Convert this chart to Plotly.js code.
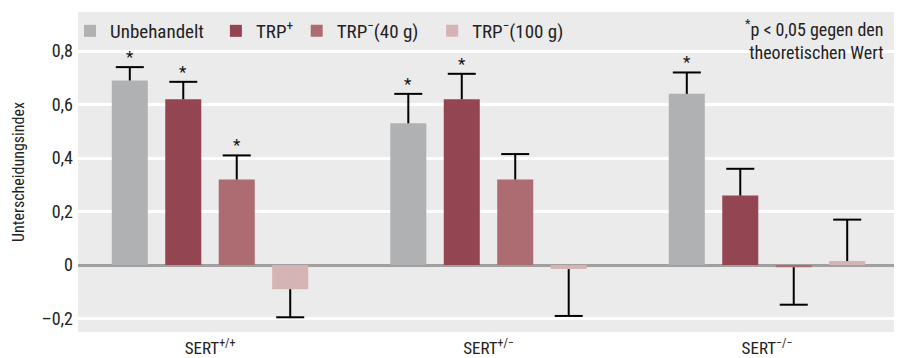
<!DOCTYPE html>
<html><head><meta charset="utf-8">
<script src="https://cdn.plot.ly/plotly-3.0.1.min.js"></script>
<style>html,body{margin:0;padding:0;background:#fff}</style>
</head><body><div id="chart" style="width:899px;height:358px"></div>
<script>
// ---- data ----
const groups = ['SERT<sup>+/+</sup>', 'SERT<sup>+/−</sup>', 'SERT<sup>−/−</sup>'];
const seriesNames = ['Unbehandelt', 'TRP<sup>+</sup>', 'TRP<sup>−</sup>(40 g)', 'TRP<sup>−</sup>(100 g)'];
const unbehandelt = [0.69, 0.53, 0.64];
const trpPlus = [0.62, 0.62, 0.26];
const trpMinus40 = [0.32, 0.32, -0.008];
const trpMinus100 = [-0.09, -0.015, 0.015];
const errUnbehandelt = [0.05, 0.11, 0.08];
const errTrpPlus = [0.065, 0.095, 0.10];
const errTrpMinus40 = [0.09, 0.095, 0.14];
const errTrpMinus100 = [0.105, 0.175, 0.155];
const sigUnbehandelt = [true, true, true];
const sigTrpPlus = [true, true, false];
const sigTrpMinus40 = [true, false, false];
const sigTrpMinus100 = [false, false, false];
const yTickVals = [-0.2, 0, 0.2, 0.4, 0.6, 0.8];
const yTickText = ['–0,2', '0', '0,2', '0,4', '0,6', '0,8'];
const noteText = '<sup>*</sup>p < 0,05 gegen den<br>theoretischen Wert';
const yTitle = 'Unterscheidungsindex';

// ---- styling ----
const colors = ['#b0b1b3', '#944552', '#ad6c71', '#d5b4b6'];
const FONT = '"Liberation Sans Narrow", "Roboto Condensed", Roboto, sans-serif';
const BARGAP = 0.232, BARGROUPGAP = 0.326;
const slot = (1 - BARGAP) / 4;
const legendX = [-0.0098, 0.169, 0.268, 0.434];

const values = [unbehandelt, trpPlus, trpMinus40, trpMinus100];
const errs = [errUnbehandelt, errTrpPlus, errTrpMinus40, errTrpMinus100];
const sigs = [sigUnbehandelt, sigTrpPlus, sigTrpMinus40, sigTrpMinus100];
const xIdx = groups.map((g, i) => i);

const traces = [];
const legendNames = ['legend', 'legend2', 'legend3', 'legend4'];
values.forEach((vals, s) => {
  traces.push({
    type: 'bar', name: seriesNames[s], x: xIdx, y: vals,
    legend: legendNames[s],
    marker: {color: colors[s]},
    error_y: {
      type: 'data', symmetric: false,
      array: vals.map((v, i) => v >= 0 ? errs[s][i] : 0),
      arrayminus: vals.map((v, i) => v < 0 ? errs[s][i] : 0),
      color: '#000', thickness: 2, width: 0
    },
    hoverinfo: 'skip'
  });
});

// caps and significance stars
const capX = [], capY = [];
const annotations = [];
values.forEach((vals, s) => {
  vals.forEach((v, i) => {
    const x = i + (s - 1.5) * slot;
    const tip = v >= 0 ? v + errs[s][i] : v - errs[s][i];
    capX.push(x); capY.push(tip);
    if (sigs[s][i]) {
      annotations.push({x: x, y: tip, xref: 'x', yref: 'y', text: '*', showarrow: false,
        yanchor: 'bottom', yshift: -2, font: {family: FONT, size: 17, color: '#111'}});
    }
  });
});
traces.push({
  type: 'scatter', mode: 'markers', x: capX, y: capY, showlegend: false, hoverinfo: 'skip',
  marker: {symbol: 'line-ew', size: 20, line: {width: 2, color: '#000'}, color: '#000'}
});

annotations.push({
  xref: 'paper', yref: 'paper', x: 0.99, y: 0.995, xanchor: 'right', yanchor: 'top',
  align: 'right', showarrow: false, text: noteText,
  font: {family: FONT, size: 18, color: '#222'}
});

const layout = {
  width: 899, height: 358,
  margin: {l: 78, r: 5, t: 12, b: 26},
  paper_bgcolor: '#ffffff', plot_bgcolor: '#ebebeb',
  separators: ',.',
  barmode: 'group', bargap: BARGAP, bargroupgap: BARGROUPGAP,
  font: {family: FONT, size: 18, color: '#222'},
  showlegend: true,
  xaxis: {
    range: [-0.474, 2.456], tickvals: xIdx, ticktext: groups,
    showgrid: false, zeroline: false, showline: false, ticks: '',
    tickfont: {family: FONT, size: 17, color: '#222'}, ticklabelstandoff: 4
  },
  yaxis: {
    range: [-0.25, 0.946], tickvals: yTickVals, ticktext: yTickText,
    showgrid: true, gridcolor: '#ffffff', gridwidth: 3,
    zeroline: true, zerolinecolor: '#a0a0a0', zerolinewidth: 3,
    showline: false, ticks: '', ticklabelstandoff: 4,
    tickfont: {family: FONT, size: 18, color: '#222'},
    title: {text: yTitle, font: {family: FONT, size: 16, color: '#222'}, standoff: 12}
  },
  annotations: annotations
};
legendNames.forEach((ln, s) => {
  layout[ln] = {orientation: 'h', x: legendX[s], y: 1.0, xanchor: 'left', yanchor: 'top',
    bgcolor: 'rgba(0,0,0,0)', font: {family: FONT, size: 19, color: '#222'},
    itemclick: false};
});

Plotly.newPlot('chart', traces, layout, {displayModeBar: false, staticPlot: true});
</script></body></html>
